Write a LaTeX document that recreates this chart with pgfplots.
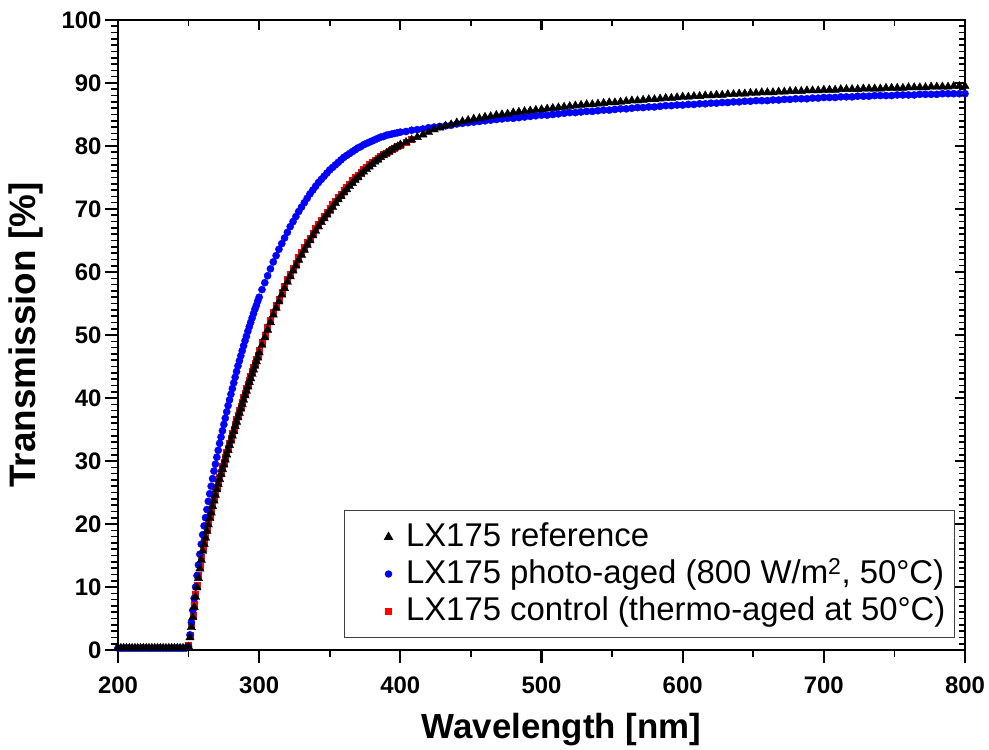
\documentclass[border=0pt]{standalone}
\usepackage{pgfplots}
\pgfplotsset{compat=1.18}
\usepackage{pgfplotstable}
\usepackage{fontspec}
\setmainfont{Liberation Sans}
\pgfplotsset{legend image code/.code={\path (0bp,0bp) (52bp,0bp); \draw[#1] plot coordinates {(38bp,0bp)};}}

\pgfplotstableread{
x ref photo ctrl
200 0.3 0.3 0.3
202 0.3 0.3 0.3
204 0.3 0.3 0.3
206 0.3 0.3 0.3
208 0.3 0.3 0.3
210 0.3 0.3 0.3
212 0.3 0.3 0.3
214 0.3 0.3 0.3
216 0.3 0.3 0.3
218 0.3 0.3 0.3
220 0.3 0.3 0.3
222 0.3 0.3 0.3
224 0.3 0.3 0.3
226 0.3 0.3 0.3
228 0.3 0.3 0.3
230 0.3 0.3 0.3
232 0.3 0.3 0.3
234 0.3 0.3 0.3
236 0.3 0.3 0.3
238 0.3 0.3 0.3
240 0.3 0.3 0.3
242 0.3 0.3 0.3
244 0.3 0.3 0.3
246 0.3 0.3 0.3
248 0.3 0.3 0.3
250 0.5 0.5 0.7
251 2.0 2.4 2.4
252 3.6 4.4 4.0
253 5.2 6.3 5.6
254 6.8 8.2 7.2
255 8.4 10.0 8.8
256 9.9 11.8 10.3
257 11.4 13.5 11.8
258 12.9 15.2 13.3
259 14.3 16.8 14.7
260 15.7 18.3 16.1
261 16.8 19.7 17.2
262 17.8 21.0 18.2
263 18.9 22.3 19.3
264 19.9 23.6 20.3
265 20.9 24.8 21.3
266 21.8 26.0 22.2
267 22.8 27.2 23.2
268 23.7 28.4 24.1
269 24.6 29.5 25.0
270 25.5 30.6 25.9
271 26.3 31.7 26.7
272 27.1 32.8 27.5
273 27.9 33.8 28.3
274 28.7 34.8 29.1
275 29.4 35.8 29.8
276 30.2 36.8 30.6
277 31.0 37.8 31.4
278 31.7 38.8 32.1
279 32.5 39.7 32.9
280 33.2 40.6 33.6
281 34.0 41.5 34.4
282 34.7 42.4 35.1
283 35.5 43.3 35.9
284 36.2 44.2 36.6
285 36.9 45.1 37.3
286 37.6 45.9 38.0
287 38.3 46.7 38.7
288 39.0 47.5 39.4
289 39.7 48.3 40.1
290 40.4 49.1 40.8
291 41.1 49.8 41.5
292 41.8 50.6 42.2
293 42.5 51.3 42.9
294 43.1 52.0 43.5
295 43.8 52.7 44.2
296 44.5 53.4 44.9
297 45.1 54.1 45.5
298 45.8 54.7 46.2
299 46.4 55.4 46.8
300 47.2 56.0 47.6
302 48.4 57.2 48.8
304 49.6 58.3 50.0
306 50.8 59.4 51.2
308 52.0 60.5 52.4
310 53.2 61.6 53.6
312 54.3 62.6 54.7
314 55.3 63.6 55.7
316 56.4 64.5 56.8
318 57.4 65.4 57.8
320 58.4 66.3 58.8
322 59.3 67.2 59.7
324 60.2 68.0 60.6
326 61.0 68.8 61.4
328 61.9 69.6 62.3
330 62.7 70.3 63.1
332 63.5 71.0 63.9
334 64.3 71.7 64.7
336 65.0 72.4 65.4
338 65.8 73.0 66.2
340 66.5 73.6 66.9
342 67.2 74.2 67.6
344 67.9 74.7 68.3
346 68.5 75.2 68.9
348 69.1 75.7 69.5
350 69.7 76.2 70.1
352 70.3 76.6 70.7
354 70.9 77.0 71.3
356 71.5 77.4 71.9
358 72.0 77.8 72.4
360 72.6 78.2 73.0
362 73.1 78.5 73.5
364 73.6 78.8 74.0
366 74.1 79.1 74.5
368 74.6 79.4 75.0
370 75.0 79.7 75.4
372 75.5 79.9 75.9
374 75.9 80.2 76.3
376 76.3 80.4 76.7
378 76.7 80.6 77.1
380 77.1 80.8 77.4
382 77.5 81.0 77.8
384 77.8 81.2 78.1
386 78.2 81.4 78.4
388 78.5 81.5 78.7
390 78.8 81.7 78.9
392 79.1 81.8 79.2
394 79.4 81.9 79.5
396 79.7 82.0 79.7
398 79.9 82.1 79.9
400 80.2 82.2 80.2
404 80.6 82.3 80.6
408 81.0 82.5 81.0
412 81.4 82.6 81.4
416 81.8 82.7 81.8
420 82.2 82.9 82.2
424 82.6 83.0 82.6
428 82.9 83.1 82.9
432 83.2 83.2 83.2
436 83.4 83.3 83.4
440 83.7 83.5 83.7
444 83.9 83.6 83.9
448 84.1 83.7 84.1
452 84.3 83.8 84.3
456 84.4 83.9 84.4
460 84.6 84.0 84.6
464 84.7 84.1 84.7
468 84.9 84.2 84.9
472 85.0 84.3 85.0
476 85.1 84.4 85.1
480 85.3 84.4 85.3
484 85.4 84.5 85.4
488 85.5 84.6 85.5
492 85.6 84.7 85.6
496 85.7 84.8 85.7
500 85.8 84.9 85.8
504 85.9 84.9 85.9
508 86.0 85.0 86.0
512 86.1 85.1 86.1
516 86.2 85.2 86.2
520 86.3 85.3 86.3
524 86.4 85.3 86.4
528 86.5 85.4 86.5
532 86.6 85.5 86.6
536 86.6 85.5 86.6
540 86.7 85.6 86.7
544 86.8 85.7 86.8
548 86.9 85.7 86.9
552 86.9 85.8 86.9
556 87.0 85.9 87.0
560 87.1 85.9 87.1
564 87.2 86.0 87.2
568 87.2 86.1 87.2
572 87.3 86.1 87.3
576 87.4 86.2 87.4
580 87.4 86.2 87.4
584 87.5 86.3 87.5
588 87.6 86.4 87.6
592 87.6 86.4 87.6
596 87.7 86.5 87.7
600 87.8 86.5 87.8
604 87.8 86.6 87.8
608 87.9 86.6 87.9
612 87.9 86.7 87.9
616 88.0 86.7 88.0
620 88.0 86.8 88.0
624 88.1 86.8 88.1
628 88.1 86.9 88.1
632 88.2 86.9 88.2
636 88.2 87.0 88.2
640 88.3 87.0 88.3
644 88.3 87.1 88.3
648 88.4 87.1 88.4
652 88.4 87.2 88.4
656 88.5 87.2 88.5
660 88.5 87.2 88.5
664 88.5 87.3 88.5
668 88.6 87.3 88.6
672 88.6 87.4 88.6
676 88.7 87.4 88.7
680 88.7 87.5 88.7
684 88.7 87.5 88.7
688 88.8 87.5 88.8
692 88.8 87.6 88.8
696 88.8 87.6 88.8
700 88.9 87.7 88.9
704 88.9 87.7 88.9
708 88.9 87.7 88.9
712 89.0 87.8 89.0
716 89.0 87.8 89.0
720 89.0 87.8 89.0
724 89.0 87.9 89.0
728 89.1 87.9 89.1
732 89.1 87.9 89.1
736 89.1 88.0 89.1
740 89.1 88.0 89.1
744 89.2 88.0 89.2
748 89.2 88.0 89.2
752 89.2 88.1 89.2
756 89.2 88.1 89.2
760 89.3 88.1 89.3
764 89.3 88.1 89.3
768 89.3 88.2 89.3
772 89.3 88.2 89.3
776 89.4 88.2 89.4
780 89.4 88.2 89.4
784 89.4 88.3 89.4
788 89.4 88.3 89.4
792 89.5 88.3 89.5
796 89.5 88.3 89.5
800 89.5 88.3 89.5
}\data

\begin{document}
\begin{tikzpicture}
\begin{axis}[
  name=main,
  scale only axis, width=847bp, height=630bp,
  xmin=200, xmax=800, ymin=0, ymax=100,
  xtick={200,300,...,800}, ytick={0,10,...,100},
  minor x tick num=1, minor y tick num=9,
  xtick pos=bottom, ytick pos=left, tick align=outside,
  major tick length=13bp, minor tick length=7bp,
  axis line style={line width=2.5bp},
  every major tick/.style={black, line width=2.2bp},
  every minor tick/.style={black, line width=1.6bp},
  /pgf/number format/assume math mode=true,
  tick label style={font=\fontsize{24}{28}\selectfont\bfseries},
  xticklabel style={yshift=-10bp},
  xlabel={Wavelength [nm]}, ylabel={Transmission [\%]},
  every axis x label/.style={at={(axis description cs:0.5,0)}, yshift=-80bp, xshift=20bp, anchor=center, font=\fontsize{35}{40}\selectfont\bfseries},
  every axis y label/.style={at={(axis description cs:0,0.5)}, xshift=-92bp, anchor=center, rotate=90, font=\fontsize{37}{42}\selectfont\bfseries},
  legend style={at={(rel axis cs:1,0)}, anchor=south east, xshift=-10bp, yshift=12bp,
    draw=black!75, line width=1bp, inner xsep=6bp, inner ysep=8bp,
    font=\fontsize{33}{37}\selectfont,
    nodes={text height=25bp, text depth=7bp, inner ysep=2.5bp, inner xsep=3bp}},
  legend cell align=left,
]
\addlegendimage{mark=triangle*, mark size=4.5bp, black}
\addlegendentry{LX175 reference}
\addlegendimage{mark=*, mark size=3.2bp, blue}
\addlegendentry{LX175 photo-aged (800 W/m\textsuperscript{2}, 50°C)}
\addlegendimage{mark=square*, mark size=3bp, red}
\addlegendentry{LX175 control (thermo-aged at 50°C)}

\addplot[only marks, mark=square*, mark size=3bp, red, forget plot, restrict x to domain=250:410] table[x=x, y=ctrl]{\data};
\addplot[only marks, mark=*, mark size=3.6bp, blue, forget plot] table[x=x, y=photo]{\data};
\addplot[only marks, mark=triangle*, mark size=4.8bp, black, forget plot] table[x=x, y=ref]{\data};
\end{axis}
\begin{axis}[
  scale only axis, width=847bp, height=630bp,
  xmin=200, xmax=800, ymin=0, ymax=100,
  xtick={200,300,...,800}, ytick={0,10,...,100},
  minor x tick num=1, minor y tick num=9,
  xtick pos=top, ytick pos=right, tick align=inside,
  xticklabels={}, yticklabels={},
  major tick length=10bp, minor tick length=6bp,
  axis line style={draw=none},
  every major tick/.style={black, line width=2.2bp},
  every minor tick/.style={black, line width=1.6bp},
]
\end{axis}
\path (main.south west) ++(-118bp,-99bp);
\path (main.north east) ++(24bp,20bp);
\end{tikzpicture}
\end{document}
